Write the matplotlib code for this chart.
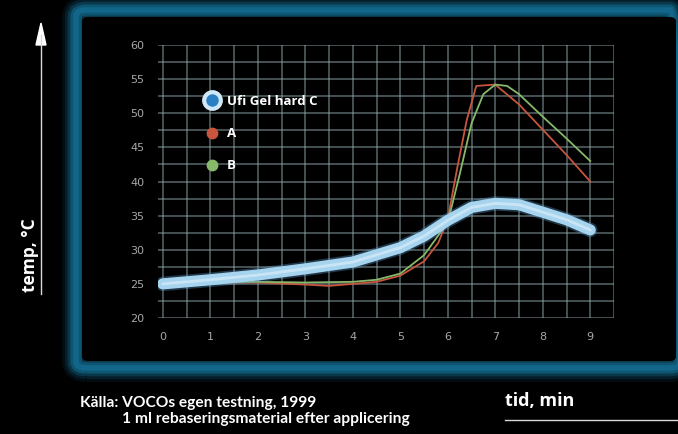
import matplotlib.pyplot as plt
from matplotlib.patches import FancyBboxPatch
from matplotlib.lines import Line2D

# values
time_ufi = [0, 1, 2, 3, 4, 5, 5.5, 6, 6.5, 7, 7.5, 8, 8.5, 9]
temp_ufi = [25, 25.6, 26.3, 27.2, 28.2, 30.3, 32.0, 34.3, 36.2, 36.8, 36.6, 35.5, 34.4, 32.9]

time_a = [0, 1, 2, 3, 3.5, 4, 4.5, 5, 5.5, 5.8, 6, 6.2, 6.4, 6.6, 7.0, 7.5, 8, 8.5, 9]
temp_a = [25, 25.2, 25.2, 24.9, 24.7, 25.0, 25.3, 26.2, 28.3, 31, 34.5, 42, 49, 54, 54.2, 51.3, 47.6, 43.9, 40]

time_b = [0, 1, 2, 3, 4, 4.5, 5, 5.5, 6, 6.25, 6.5, 6.75, 7, 7.25, 7.5, 8, 8.5, 9]
temp_b = [25, 25.2, 25.3, 25.2, 25.3, 25.6, 26.5, 29.2, 34.0, 41, 48.5, 52.8, 54.2, 54, 52.8, 49.5, 46.3, 43]

series_labels = ['Ufi Gel hard C', 'A', 'B']
x_ticks = list(range(10))
y_ticks = [20, 25, 30, 35, 40, 45, 50, 55, 60]

UFI_COLOR = '#a6d4ee'
A_COLOR = '#c8553d'
B_COLOR = '#86b96a'
GRID_COLOR = '#8fa9ae'
FRAME_COLOR = '#13698c'

W, H = 678, 434
fig = plt.figure(figsize=(W / 100, H / 100), dpi=100, facecolor='black')

# soft glowing panel frame, strongest close to the inner edge (behind the axes)
for lw, alpha in [(20, 0.12), (16, 0.2), (12, 0.35), (8, 0.6), (4, 0.9)]:
    frame = FancyBboxPatch((76 / W, 1 - 368 / H), 604 / W, 358 / H,
                           boxstyle='round,pad=0,rounding_size=0.015',
                           transform=fig.transFigure, facecolor='none',
                           edgecolor=FRAME_COLOR, linewidth=lw, alpha=alpha, zorder=-10)
    fig.patches.append(frame)
inner = FancyBboxPatch((82 / W, 1 - 361 / H), 594 / W, 344 / H,
                       boxstyle='round,pad=0,rounding_size=0.01',
                       transform=fig.transFigure, facecolor='black', edgecolor='none', zorder=-5)
fig.patches.append(inner)

ax = fig.add_axes([158 / W, 1 - 318 / H, 456 / W, 273 / H])
ax.set_facecolor('black')
ax.patch.set_alpha(0)
ax.set_xlim(-0.1, 9.5)
ax.set_ylim(20, 60)

for x in [i * 0.5 for i in range(20)]:
    ax.axvline(x, color=GRID_COLOR, lw=1.1, alpha=0.6, zorder=1)
for y in [20 + i * 2.5 for i in range(17)]:
    ax.axhline(y, color=GRID_COLOR, lw=1.1, alpha=0.6, zorder=1)

ax.plot(time_a, temp_a, color=A_COLOR, lw=1.3, zorder=3)
ax.plot(time_b, temp_b, color=B_COLOR, lw=1.3, zorder=3)

# thick glowing line for Ufi Gel hard C
ax.plot(time_ufi, temp_ufi, color='#5b9fd2', lw=10.5, alpha=0.35, solid_capstyle='round', zorder=4)
ax.plot(time_ufi, temp_ufi, color=UFI_COLOR, lw=8, solid_capstyle='round', zorder=5)
ax.plot(time_ufi, temp_ufi, color='#e2f2fb', lw=2, alpha=0.6, solid_capstyle='round', zorder=6)

ax.set_xticks(x_ticks)
ax.set_yticks(y_ticks)
ax.set_xticklabels([str(t) for t in x_ticks])
ax.set_yticklabels([str(t) for t in y_ticks])
ax.tick_params(length=0, colors='#a8a8a8', labelsize=8, pad=10)
for spine in ax.spines.values():
    spine.set_visible(False)

handles = [
    Line2D([], [], ls='none', marker='o', ms=12, mfc='#2b80c4', mec='#cfe7f6', mew=3),
    Line2D([], [], ls='none', marker='o', ms=7.5, mfc=A_COLOR, mec=A_COLOR),
    Line2D([], [], ls='none', marker='o', ms=7.5, mfc=B_COLOR, mec=B_COLOR),
]
leg = ax.legend(handles, series_labels, loc='upper left', bbox_to_anchor=(0.07, 0.86),
                frameon=False, labelcolor='white', handletextpad=0.3, labelspacing=1.45,
                handlelength=1.6, prop={'family': 'Open Sans', 'weight': 'bold', 'size': 9.5})

# axis captions and arrows
fig.text(30 / W, 1 - 255 / H, 'temp, °C', rotation=90, color='white', ha='center', va='center',
         family='Open Sans', weight='bold', fontsize=12.5)
fig.add_artist(plt.Line2D([41 / W, 41 / W], [1 - 294 / H, 1 - 35 / H], color='#d8d8d8', lw=1))
fig.patches.append(plt.Polygon([[36 / W, 1 - 45 / H], [46 / W, 1 - 45 / H], [41 / W, 1 - 23 / H]],
                               closed=True, transform=fig.transFigure, color='white'))

fig.text(505 / W, 1 - 401 / H, 'tid, min', color='white', ha='left', va='center',
         family='Open Sans', weight='bold', fontsize=13)
fig.add_artist(plt.Line2D([505 / W, 678 / W], [1 - 420 / H, 1 - 420 / H], color='#d8d8d8', lw=1))

fig.text(80 / W, 1 - 403 / H, 'Källa: VOCOs egen testning, 1999', color='white', ha='left',
         va='center', family='Lato', weight='bold', fontsize=11.2)
fig.text(122 / W, 1 - 419 / H, '1 ml rebaseringsmaterial efter applicering', color='white',
         ha='left', va='center', family='Lato', weight='bold', fontsize=11.2)

fig.savefig('out.png', dpi=100, facecolor='black')
